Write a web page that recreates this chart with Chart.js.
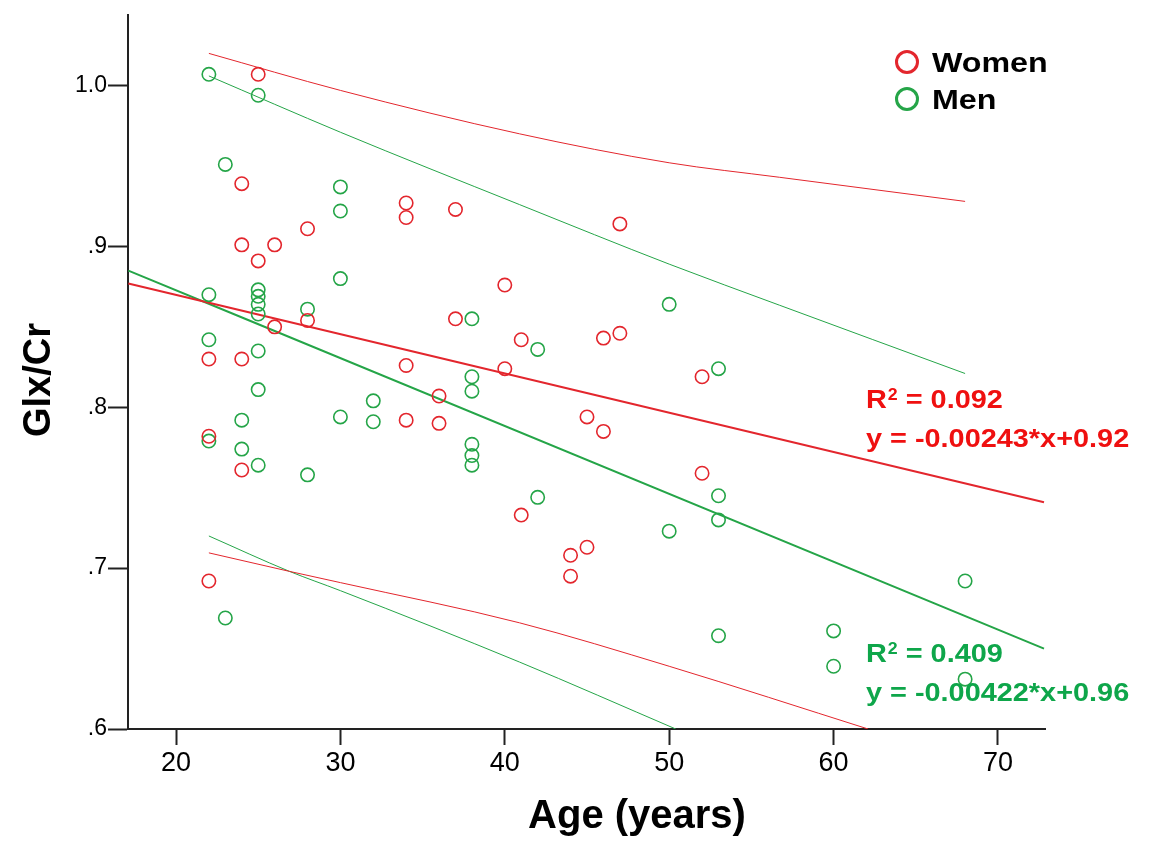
<!DOCTYPE html>
<html>
<head>
<meta charset="utf-8">
<title>Glx/Cr by age</title>
<script src="https://cdn.jsdelivr.net/npm/chart.js@4.4.1/dist/chart.umd.min.js"></script>
<style>
  html, body { margin: 0; padding: 0; background: #fff; }
  #wrap { width: 1156px; height: 862px; }
</style>
</head>
<body>
<div id="wrap"><canvas id="glxChart" width="1156" height="862"></canvas></div>
<script>
// values
const womenAge = [22, 22, 22, 24, 24, 24, 24, 25, 25, 26, 26, 28, 28, 34, 34, 34, 34, 36, 36,
  37, 37, 40, 40, 41, 41, 44, 44, 45, 45, 46, 46, 47, 47, 52, 52];
const womenGlx = [0.830, 0.782, 0.692, 0.939, 0.901, 0.830, 0.761, 1.007, 0.891, 0.901, 0.850,
  0.911, 0.854, 0.927, 0.918, 0.826, 0.792, 0.807, 0.790, 0.923, 0.855, 0.876, 0.824, 0.842,
  0.733, 0.708, 0.695, 0.794, 0.713, 0.843, 0.785, 0.914, 0.846, 0.819, 0.759];

const menAge = [22, 22, 22, 22, 23, 23, 24, 24, 25, 25, 25, 25, 25, 25, 25, 25, 28, 28, 30, 30,
  30, 30, 32, 32, 38, 38, 38, 38, 38, 38, 42, 42, 50, 50, 53, 53, 53, 53, 60, 60, 68, 68];
const menGlx = [1.007, 0.870, 0.842, 0.779, 0.951, 0.669, 0.792, 0.774, 0.994, 0.873, 0.869,
  0.864, 0.858, 0.835, 0.811, 0.764, 0.861, 0.758, 0.937, 0.922, 0.880, 0.794, 0.804, 0.791,
  0.855, 0.819, 0.810, 0.777, 0.770, 0.764, 0.836, 0.744, 0.864, 0.723, 0.824, 0.745, 0.730,
  0.658, 0.661, 0.639, 0.692, 0.631];

// fit lines and interval curves, read at a few ages
const womenFitAge = [17.1, 72.8];
const womenFitGlx = [0.877, 0.741];
const menFitAge = [17.1, 72.8];
const menFitGlx = [0.885, 0.650];

const womenUpperAge = [22, 30, 40.9, 50, 56.7, 68];
const womenUpperGlx = [1.020, 0.997, 0.970, 0.952, 0.943, 0.928];
const womenLowerAge = [22, 26.9, 30, 40.9, 50, 62.1];
const womenLowerGlx = [0.7095, 0.698, 0.691, 0.666, 0.639, 0.600];
const menUpperAge = [22, 30, 40.9, 50, 56.7, 68];
const menUpperGlx = [1.006, 0.971, 0.926, 0.889, 0.8635, 0.821];
const menLowerAge = [22, 26.9, 30, 40.9, 50.4];
const menLowerGlx = [0.720, 0.698, 0.686, 0.6416, 0.600];

const xTicks = [20, 30, 40, 50, 60, 70];
const yTicks = [0.6, 0.7, 0.8, 0.9, 1.0];
const yTickLabels = ['.6', '.7', '.8', '.9', '1.0'];

const RED = '#e3262d';
const GREEN = '#25a548';

const toPoints = (xs, ys) => xs.map((x, i) => ({ x: x, y: ys[i] }));

function scatterSet(label, xs, ys, color) {
  return {
    label: label,
    data: toPoints(xs, ys),
    showLine: false,
    pointStyle: 'circle',
    pointRadius: 6.7,
    pointBorderWidth: 1.6,
    pointBackgroundColor: 'rgba(0,0,0,0)',
    pointBorderColor: color
  };
}

function lineSet(xs, ys, color, width) {
  return {
    data: toPoints(xs, ys),
    showLine: true,
    fill: false,
    borderColor: color,
    borderWidth: width,
    pointRadius: 0,
    cubicInterpolationMode: 'monotone'
  };
}

// draws a string stretched sideways, returns its drawn width
function wideText(ctx, text, x, y, sx) {
  ctx.save();
  ctx.translate(x, y);
  ctx.scale(sx, 1);
  ctx.fillText(text, 0, 0);
  const w = ctx.measureText(text).width * sx;
  ctx.restore();
  return w;
}

function drawFit(ctx, color, r2, eq, x, base1, base2) {
  const sx = 1.11;
  ctx.fillStyle = color;
  ctx.font = 'bold 26px "Liberation Sans", Arial, sans-serif';
  const w = wideText(ctx, 'R', x, base1, sx);
  ctx.font = 'bold 16px "Liberation Sans", Arial, sans-serif';
  const w2 = wideText(ctx, '2', x + w + 1, base1 - 8, sx);
  ctx.font = 'bold 26px "Liberation Sans", Arial, sans-serif';
  wideText(ctx, ' = ' + r2, x + w + w2 + 1, base1, sx);
  wideText(ctx, eq, x, base2, sx);
}

const textPlugin = {
  id: 'glxText',
  afterDraw(chart) {
    const ctx = chart.ctx;
    ctx.save();
    ctx.textBaseline = 'alphabetic';
    ctx.textAlign = 'left';

    // legend
    const legend = [['Women', RED, 62], ['Men', GREEN, 99]];
    legend.forEach(([name, color, cy]) => {
      ctx.beginPath();
      ctx.arc(907, cy, 10.5, 0, Math.PI * 2);
      ctx.lineWidth = 3;
      ctx.strokeStyle = color;
      ctx.stroke();
      ctx.fillStyle = '#000';
      ctx.font = 'bold 28px "Liberation Sans", Arial, sans-serif';
      wideText(ctx, name, 932, cy + 10, 1.15);
    });

    drawFit(ctx, '#ef1010', '0.092', 'y = -0.00243*x+0.92', 866, 408, 447);
    drawFit(ctx, '#0ea64a', '0.409', 'y = -0.00422*x+0.96', 866, 662, 701);

    // axis titles
    ctx.fillStyle = '#000';
    ctx.font = 'bold 40px "Liberation Sans", Arial, sans-serif';
    ctx.textAlign = 'center';
    ctx.fillText('Age (years)', 637, 828);

    ctx.translate(40, 380);
    ctx.rotate(-Math.PI / 2);
    ctx.textBaseline = 'middle';
    ctx.font = 'bold 38px "Liberation Sans", Arial, sans-serif';
    ctx.fillText('Glx/Cr', 0, 0);
    ctx.restore();
  }
};

Chart.defaults.font.family = '"Liberation Sans", Arial, sans-serif';

const ctx = document.getElementById('glxChart').getContext('2d');
const chart = new Chart(ctx, {
  type: 'scatter',
  data: {
    datasets: [
      scatterSet('Women', womenAge, womenGlx, RED),
      scatterSet('Men', menAge, menGlx, GREEN),
      lineSet(womenFitAge, womenFitGlx, RED, 2),
      lineSet(menFitAge, menFitGlx, GREEN, 2),
      lineSet(womenUpperAge, womenUpperGlx, RED, 1),
      lineSet(womenLowerAge, womenLowerGlx, RED, 1),
      lineSet(menUpperAge, menUpperGlx, GREEN, 1),
      lineSet(menLowerAge, menLowerGlx, GREEN, 1)
    ]
  },
  options: {
    responsive: false,
    animation: false,
    layout: { padding: { top: 13, right: 111, left: 0, bottom: 0 } },
    plugins: {
      legend: { display: false },
      tooltip: { enabled: false }
    },
    scales: {
      x: {
        type: 'linear',
        min: 17.08,
        max: 72.86,
        afterFit: scale => { scale.height = 133; },
        afterBuildTicks: scale => { scale.ticks = xTicks.map(v => ({ value: v })); },
        grid: { drawOnChartArea: false, tickLength: 16, tickWidth: 2, tickColor: '#222' },
        border: { color: '#222', width: 2 },
        ticks: {
          color: '#000',
          padding: 2,
          maxRotation: 0,
          font: { size: 27 }
        }
      },
      y: {
        type: 'linear',
        min: 0.6,
        max: 1.044,
        afterFit: scale => { scale.width = 128; },
        afterBuildTicks: scale => { scale.ticks = yTicks.map(v => ({ value: v })); },
        grid: { drawOnChartArea: false, tickLength: 20, tickWidth: 2, tickColor: '#222' },
        border: { color: '#222', width: 2 },
        ticks: {
          color: '#000',
          padding: 1,
          font: { size: 23 },
          callback: (value, index) => yTickLabels[index]
        }
      }
    }
  },
  plugins: [textPlugin]
});
</script>
</body>
</html>
